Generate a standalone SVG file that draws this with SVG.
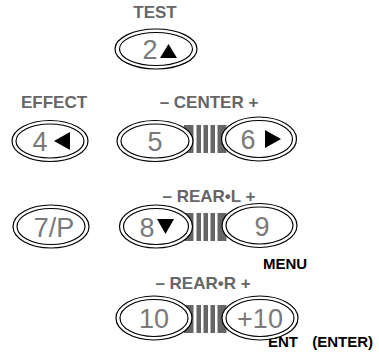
<svg xmlns="http://www.w3.org/2000/svg" width="379" height="355" viewBox="0 0 379 355">
<style>
.o{fill:#fff;stroke:#000;stroke-width:1.2}
.i{fill:none;stroke:#000;stroke-width:1.15}
.lbl{font-family:"Liberation Sans",Arial,sans-serif;font-weight:bold;font-size:17px;fill:#666;text-anchor:middle}
.blk{font-family:"Liberation Sans",Arial,sans-serif;font-weight:bold;font-size:15px;fill:#000}
.num{font-family:"Liberation Sans",Arial,sans-serif;font-size:27px;fill:#7a7a7a;text-anchor:middle}
.bar{fill:#666}
.tri{fill:#000}
</style>
<defs>
<g id="bars">
<rect class="bar" x="184" y="0" width="9.5" height="28"/>
<rect class="bar" x="196.5" y="0" width="4.5" height="28"/>
<rect class="bar" x="203.5" y="0" width="4.5" height="28"/>
<rect class="bar" x="210.5" y="0" width="4.5" height="28"/>
<rect class="bar" x="217.5" y="0" width="9" height="28"/>
</g>
</defs>
<g id="connectors">
<use href="#bars" y="125"/>
<use href="#bars" y="213"/>
<use href="#bars" y="305"/>
</g>
<g id="labels">
<text class="lbl" x="155" y="18">TEST</text>
<text class="lbl" x="54" y="108">EFFECT</text>
<text class="lbl" x="209" y="108">– CENTER +</text>
<text class="lbl" x="209" y="202">– REAR•L +</text>
<text class="lbl" x="203" y="289">– REAR•R +</text>
<text class="blk" x="263" y="269">MENU</text>
<text class="blk" x="268" y="347" font-size="16.5">ENT</text>
<text class="blk" x="373" y="347" text-anchor="end" font-size="17">(ENTER)</text>
</g>
<g id="btn2">
<ellipse class="o" cx="156" cy="49" rx="41" ry="20"/>
<ellipse class="i" cx="156" cy="49" rx="36.5" ry="16.5"/>
<text class="num" x="150" y="59">2</text>
<polygon class="tri" points="160,58 177,58 168.5,44"/>
</g>
<g id="btn4">
<ellipse class="o" cx="50" cy="141" rx="38" ry="20.5"/>
<ellipse class="i" cx="50" cy="141" rx="34" ry="17"/>
<text class="num" x="40" y="151">4</text>
<polygon class="tri" points="54,141 70,132 70,150"/>
</g>
<g id="btn5">
<ellipse class="o" cx="155" cy="141" rx="38" ry="20.5"/>
<ellipse class="i" cx="155" cy="141" rx="34" ry="17"/>
<text class="num" x="155" y="151">5</text>
</g>
<g id="btn6">
<ellipse class="o" cx="259" cy="139" rx="37.5" ry="22"/>
<ellipse class="i" cx="259" cy="139" rx="33.5" ry="18.5"/>
<text class="num" x="248" y="149">6</text>
<polygon class="tri" points="265,130 265,148 281,139"/>
</g>
<g id="btn7">
<ellipse class="o" cx="51" cy="226.5" rx="38" ry="21.5"/>
<ellipse class="i" cx="51" cy="226.5" rx="34" ry="18"/>
<text class="num" x="54" y="236.5">7/P</text>
</g>
<g id="btn8">
<ellipse class="o" cx="156" cy="226.5" rx="36.5" ry="21.5"/>
<ellipse class="i" cx="156" cy="226.5" rx="32.5" ry="18"/>
<text class="num" x="147" y="236.5">8</text>
<polygon class="tri" points="157,219 174,219 165.5,234"/>
</g>
<g id="btn9">
<ellipse class="o" cx="259.5" cy="225.5" rx="37.5" ry="22"/>
<ellipse class="i" cx="259.5" cy="225.5" rx="33.5" ry="18.5"/>
<text class="num" x="262" y="235.5">9</text>
</g>
<g id="btn10">
<ellipse class="o" cx="154" cy="318" rx="38" ry="22"/>
<ellipse class="i" cx="154" cy="318" rx="34" ry="18.5"/>
<text class="num" x="154" y="328">10</text>
</g>
<g id="btnplus10">
<ellipse class="o" cx="260" cy="318" rx="38" ry="22"/>
<ellipse class="i" cx="260" cy="318" rx="34" ry="18.5"/>
<text class="num" x="260" y="328">+10</text>
</g>
</svg>
